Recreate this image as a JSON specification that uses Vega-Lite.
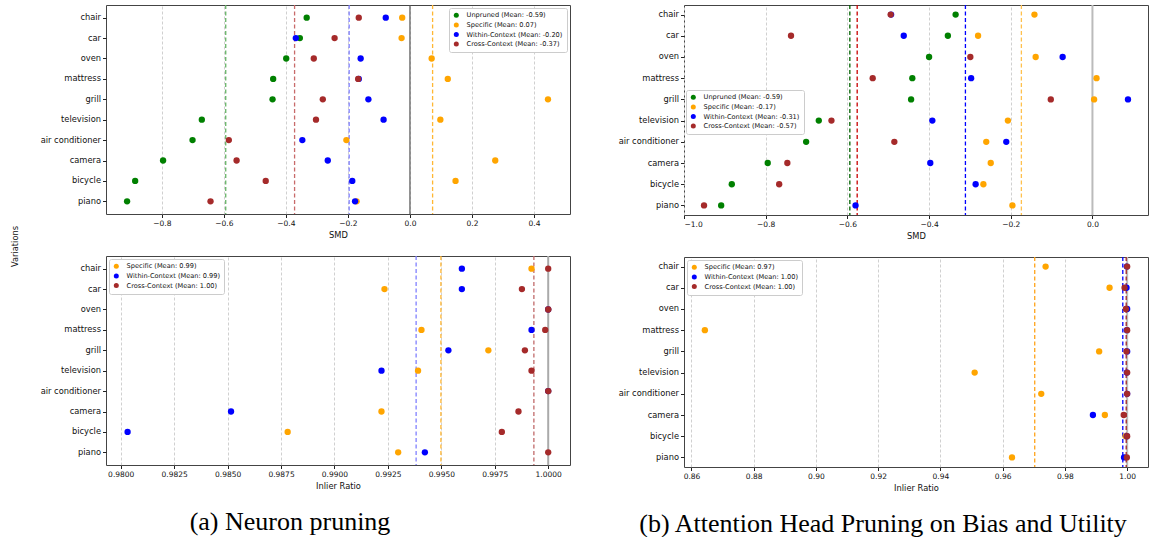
{
  "$schema": "https://vega.github.io/schema/vega-lite/v6.json",
  "background": "white",
  "padding": {"left": 9, "top": 3, "right": 2, "bottom": 0},
  "datasets": {
    "a_top": [
      {"series": "Unpruned (Mean: -0.59)", "variation": "chair", "value": -0.333},
      {"series": "Unpruned (Mean: -0.59)", "variation": "car", "value": -0.355},
      {"series": "Unpruned (Mean: -0.59)", "variation": "oven", "value": -0.399},
      {"series": "Unpruned (Mean: -0.59)", "variation": "mattress", "value": -0.441},
      {"series": "Unpruned (Mean: -0.59)", "variation": "grill", "value": -0.443},
      {"series": "Unpruned (Mean: -0.59)", "variation": "television", "value": -0.671},
      {"series": "Unpruned (Mean: -0.59)", "variation": "air conditioner", "value": -0.701},
      {"series": "Unpruned (Mean: -0.59)", "variation": "camera", "value": -0.796},
      {"series": "Unpruned (Mean: -0.59)", "variation": "bicycle", "value": -0.886},
      {"series": "Unpruned (Mean: -0.59)", "variation": "piano", "value": -0.912},
      {"series": "Specific (Mean: 0.07)", "variation": "chair", "value": -0.025},
      {"series": "Specific (Mean: 0.07)", "variation": "car", "value": -0.027},
      {"series": "Specific (Mean: 0.07)", "variation": "oven", "value": 0.070},
      {"series": "Specific (Mean: 0.07)", "variation": "mattress", "value": 0.122},
      {"series": "Specific (Mean: 0.07)", "variation": "grill", "value": 0.445},
      {"series": "Specific (Mean: 0.07)", "variation": "television", "value": 0.098},
      {"series": "Specific (Mean: 0.07)", "variation": "air conditioner", "value": -0.205},
      {"series": "Specific (Mean: 0.07)", "variation": "camera", "value": 0.275},
      {"series": "Specific (Mean: 0.07)", "variation": "bicycle", "value": 0.147},
      {"series": "Specific (Mean: 0.07)", "variation": "piano", "value": -0.172},
      {"series": "Within-Context (Mean: -0.20)", "variation": "chair", "value": -0.078},
      {"series": "Within-Context (Mean: -0.20)", "variation": "car", "value": -0.368},
      {"series": "Within-Context (Mean: -0.20)", "variation": "oven", "value": -0.159},
      {"series": "Within-Context (Mean: -0.20)", "variation": "mattress", "value": -0.165},
      {"series": "Within-Context (Mean: -0.20)", "variation": "grill", "value": -0.134},
      {"series": "Within-Context (Mean: -0.20)", "variation": "television", "value": -0.085},
      {"series": "Within-Context (Mean: -0.20)", "variation": "air conditioner", "value": -0.347},
      {"series": "Within-Context (Mean: -0.20)", "variation": "camera", "value": -0.265},
      {"series": "Within-Context (Mean: -0.20)", "variation": "bicycle", "value": -0.186},
      {"series": "Within-Context (Mean: -0.20)", "variation": "piano", "value": -0.177},
      {"series": "Cross-Context (Mean: -0.37)", "variation": "chair", "value": -0.165},
      {"series": "Cross-Context (Mean: -0.37)", "variation": "car", "value": -0.243},
      {"series": "Cross-Context (Mean: -0.37)", "variation": "oven", "value": -0.310},
      {"series": "Cross-Context (Mean: -0.37)", "variation": "mattress", "value": -0.167},
      {"series": "Cross-Context (Mean: -0.37)", "variation": "grill", "value": -0.281},
      {"series": "Cross-Context (Mean: -0.37)", "variation": "television", "value": -0.303},
      {"series": "Cross-Context (Mean: -0.37)", "variation": "air conditioner", "value": -0.584},
      {"series": "Cross-Context (Mean: -0.37)", "variation": "camera", "value": -0.559},
      {"series": "Cross-Context (Mean: -0.37)", "variation": "bicycle", "value": -0.465},
      {"series": "Cross-Context (Mean: -0.37)", "variation": "piano", "value": -0.643}
    ],
    "a_top_means": [
      {"series": "Unpruned (Mean: -0.59)", "mean": -0.594},
      {"series": "Specific (Mean: 0.07)", "mean": 0.073},
      {"series": "Within-Context (Mean: -0.20)", "mean": -0.196},
      {"series": "Cross-Context (Mean: -0.37)", "mean": -0.372}
    ],
    "a_bot": [
      {"series": "Specific (Mean: 0.99)", "variation": "chair", "value": 0.99922},
      {"series": "Specific (Mean: 0.99)", "variation": "car", "value": 0.99234},
      {"series": "Specific (Mean: 0.99)", "variation": "oven", "value": 1.0},
      {"series": "Specific (Mean: 0.99)", "variation": "mattress", "value": 0.99407},
      {"series": "Specific (Mean: 0.99)", "variation": "grill", "value": 0.99720},
      {"series": "Specific (Mean: 0.99)", "variation": "television", "value": 0.99391},
      {"series": "Specific (Mean: 0.99)", "variation": "air conditioner", "value": 1.0},
      {"series": "Specific (Mean: 0.99)", "variation": "camera", "value": 0.99220},
      {"series": "Specific (Mean: 0.99)", "variation": "bicycle", "value": 0.98781},
      {"series": "Specific (Mean: 0.99)", "variation": "piano", "value": 0.99298},
      {"series": "Within-Context (Mean: 0.99)", "variation": "chair", "value": 0.99596},
      {"series": "Within-Context (Mean: 0.99)", "variation": "car", "value": 0.99596},
      {"series": "Within-Context (Mean: 0.99)", "variation": "oven", "value": 1.0},
      {"series": "Within-Context (Mean: 0.99)", "variation": "mattress", "value": 0.99922},
      {"series": "Within-Context (Mean: 0.99)", "variation": "grill", "value": 0.99533},
      {"series": "Within-Context (Mean: 0.99)", "variation": "television", "value": 0.99220},
      {"series": "Within-Context (Mean: 0.99)", "variation": "air conditioner", "value": 1.0},
      {"series": "Within-Context (Mean: 0.99)", "variation": "camera", "value": 0.98516},
      {"series": "Within-Context (Mean: 0.99)", "variation": "bicycle", "value": 0.98032},
      {"series": "Within-Context (Mean: 0.99)", "variation": "piano", "value": 0.99423},
      {"series": "Cross-Context (Mean: 1.00)", "variation": "chair", "value": 1.0},
      {"series": "Cross-Context (Mean: 1.00)", "variation": "car", "value": 0.99877},
      {"series": "Cross-Context (Mean: 1.00)", "variation": "oven", "value": 1.0},
      {"series": "Cross-Context (Mean: 1.00)", "variation": "mattress", "value": 0.99986},
      {"series": "Cross-Context (Mean: 1.00)", "variation": "grill", "value": 0.99891},
      {"series": "Cross-Context (Mean: 1.00)", "variation": "television", "value": 0.99922},
      {"series": "Cross-Context (Mean: 1.00)", "variation": "air conditioner", "value": 1.0},
      {"series": "Cross-Context (Mean: 1.00)", "variation": "camera", "value": 0.99861},
      {"series": "Cross-Context (Mean: 1.00)", "variation": "bicycle", "value": 0.99783},
      {"series": "Cross-Context (Mean: 1.00)", "variation": "piano", "value": 1.0}
    ],
    "a_bot_means": [
      {"series": "Specific (Mean: 0.99)", "mean": 0.99498},
      {"series": "Within-Context (Mean: 0.99)", "mean": 0.99382},
      {"series": "Cross-Context (Mean: 1.00)", "mean": 0.99933}
    ],
    "b_top": [
      {"series": "Unpruned (Mean: -0.59)", "variation": "chair", "value": -0.335},
      {"series": "Unpruned (Mean: -0.59)", "variation": "car", "value": -0.354},
      {"series": "Unpruned (Mean: -0.59)", "variation": "oven", "value": -0.400},
      {"series": "Unpruned (Mean: -0.59)", "variation": "mattress", "value": -0.441},
      {"series": "Unpruned (Mean: -0.59)", "variation": "grill", "value": -0.444},
      {"series": "Unpruned (Mean: -0.59)", "variation": "television", "value": -0.670},
      {"series": "Unpruned (Mean: -0.59)", "variation": "air conditioner", "value": -0.701},
      {"series": "Unpruned (Mean: -0.59)", "variation": "camera", "value": -0.795},
      {"series": "Unpruned (Mean: -0.59)", "variation": "bicycle", "value": -0.883},
      {"series": "Unpruned (Mean: -0.59)", "variation": "piano", "value": -0.909},
      {"series": "Specific (Mean: -0.17)", "variation": "chair", "value": -0.142},
      {"series": "Specific (Mean: -0.17)", "variation": "car", "value": -0.280},
      {"series": "Specific (Mean: -0.17)", "variation": "oven", "value": -0.139},
      {"series": "Specific (Mean: -0.17)", "variation": "mattress", "value": 0.010},
      {"series": "Specific (Mean: -0.17)", "variation": "grill", "value": 0.004},
      {"series": "Specific (Mean: -0.17)", "variation": "television", "value": -0.207},
      {"series": "Specific (Mean: -0.17)", "variation": "air conditioner", "value": -0.260},
      {"series": "Specific (Mean: -0.17)", "variation": "camera", "value": -0.249},
      {"series": "Specific (Mean: -0.17)", "variation": "bicycle", "value": -0.267},
      {"series": "Specific (Mean: -0.17)", "variation": "piano", "value": -0.196},
      {"series": "Within-Context (Mean: -0.31)", "variation": "chair", "value": -0.493},
      {"series": "Within-Context (Mean: -0.31)", "variation": "car", "value": -0.462},
      {"series": "Within-Context (Mean: -0.31)", "variation": "oven", "value": -0.073},
      {"series": "Within-Context (Mean: -0.31)", "variation": "mattress", "value": -0.297},
      {"series": "Within-Context (Mean: -0.31)", "variation": "grill", "value": 0.087},
      {"series": "Within-Context (Mean: -0.31)", "variation": "television", "value": -0.392},
      {"series": "Within-Context (Mean: -0.31)", "variation": "air conditioner", "value": -0.211},
      {"series": "Within-Context (Mean: -0.31)", "variation": "camera", "value": -0.397},
      {"series": "Within-Context (Mean: -0.31)", "variation": "bicycle", "value": -0.286},
      {"series": "Within-Context (Mean: -0.31)", "variation": "piano", "value": -0.580},
      {"series": "Cross-Context (Mean: -0.57)", "variation": "chair", "value": -0.494},
      {"series": "Cross-Context (Mean: -0.57)", "variation": "car", "value": -0.738},
      {"series": "Cross-Context (Mean: -0.57)", "variation": "oven", "value": -0.299},
      {"series": "Cross-Context (Mean: -0.57)", "variation": "mattress", "value": -0.538},
      {"series": "Cross-Context (Mean: -0.57)", "variation": "grill", "value": -0.102},
      {"series": "Cross-Context (Mean: -0.57)", "variation": "television", "value": -0.639},
      {"series": "Cross-Context (Mean: -0.57)", "variation": "air conditioner", "value": -0.485},
      {"series": "Cross-Context (Mean: -0.57)", "variation": "camera", "value": -0.747},
      {"series": "Cross-Context (Mean: -0.57)", "variation": "bicycle", "value": -0.767},
      {"series": "Cross-Context (Mean: -0.57)", "variation": "piano", "value": -0.951}
    ],
    "b_top_means": [
      {"series": "Unpruned (Mean: -0.59)", "mean": -0.594},
      {"series": "Specific (Mean: -0.17)", "mean": -0.174},
      {"series": "Within-Context (Mean: -0.31)", "mean": -0.311},
      {"series": "Cross-Context (Mean: -0.57)", "mean": -0.576}
    ],
    "b_bot": [
      {"series": "Specific (Mean: 0.97)", "variation": "chair", "value": 0.9738},
      {"series": "Specific (Mean: 0.97)", "variation": "car", "value": 0.99435},
      {"series": "Specific (Mean: 0.97)", "variation": "oven", "value": 0.9999},
      {"series": "Specific (Mean: 0.97)", "variation": "mattress", "value": 0.8643},
      {"series": "Specific (Mean: 0.97)", "variation": "grill", "value": 0.9910},
      {"series": "Specific (Mean: 0.97)", "variation": "television", "value": 0.9510},
      {"series": "Specific (Mean: 0.97)", "variation": "air conditioner", "value": 0.9724},
      {"series": "Specific (Mean: 0.97)", "variation": "camera", "value": 0.99284},
      {"series": "Specific (Mean: 0.97)", "variation": "bicycle", "value": 0.9995},
      {"series": "Specific (Mean: 0.97)", "variation": "piano", "value": 0.9630},
      {"series": "Within-Context (Mean: 1.00)", "variation": "chair", "value": 0.9999},
      {"series": "Within-Context (Mean: 1.00)", "variation": "car", "value": 0.9998},
      {"series": "Within-Context (Mean: 1.00)", "variation": "oven", "value": 1.0},
      {"series": "Within-Context (Mean: 1.00)", "variation": "mattress", "value": 0.9999},
      {"series": "Within-Context (Mean: 1.00)", "variation": "grill", "value": 1.0},
      {"series": "Within-Context (Mean: 1.00)", "variation": "television", "value": 0.9999},
      {"series": "Within-Context (Mean: 1.00)", "variation": "air conditioner", "value": 1.0},
      {"series": "Within-Context (Mean: 1.00)", "variation": "camera", "value": 0.9890},
      {"series": "Within-Context (Mean: 1.00)", "variation": "bicycle", "value": 0.9999},
      {"series": "Within-Context (Mean: 1.00)", "variation": "piano", "value": 0.9990},
      {"series": "Cross-Context (Mean: 1.00)", "variation": "chair", "value": 1.0},
      {"series": "Cross-Context (Mean: 1.00)", "variation": "car", "value": 0.99917},
      {"series": "Cross-Context (Mean: 1.00)", "variation": "oven", "value": 0.9996},
      {"series": "Cross-Context (Mean: 1.00)", "variation": "mattress", "value": 1.0},
      {"series": "Cross-Context (Mean: 1.00)", "variation": "grill", "value": 0.9998},
      {"series": "Cross-Context (Mean: 1.00)", "variation": "television", "value": 1.0},
      {"series": "Cross-Context (Mean: 1.00)", "variation": "air conditioner", "value": 1.0},
      {"series": "Cross-Context (Mean: 1.00)", "variation": "camera", "value": 0.9989},
      {"series": "Cross-Context (Mean: 1.00)", "variation": "bicycle", "value": 1.0},
      {"series": "Cross-Context (Mean: 1.00)", "variation": "piano", "value": 0.9999}
    ],
    "b_bot_means": [
      {"series": "Specific (Mean: 0.97)", "mean": 0.9703},
      {"series": "Within-Context (Mean: 1.00)", "mean": 0.9986},
      {"series": "Cross-Context (Mean: 1.00)", "mean": 0.9997}
    ]
  },
  "hconcat": [
    {
      "vconcat": [
        {
          "width": 464, "height": 209,
          "layer": [
            {"data": {"values": [{"ref": 0}]}, "mark": {"type": "rule", "color": "#555", "strokeWidth": 1.2},
             "encoding": {"x": {"field": "ref", "type": "quantitative", "title": "SMD"}}},
            {"data": {"name": "a_top_means"}, "mark": {"type": "rule", "strokeDash": [4, 2.5], "strokeWidth": 1.3},
             "encoding": {"x": {"field": "mean", "type": "quantitative", "title": "SMD"},
               "stroke": {"field": "series", "type": "nominal", "legend": null,
                 "scale": {"domain": ["Cross-Context (Mean: -0.37)", "Within-Context (Mean: -0.20)", "Specific (Mean: 0.07)", "Unpruned (Mean: -0.59)"],
                           "range": ["#c86a6a", "#8080ff", "#ffb733", "#66b366"]}}}},
            {"data": {"name": "a_top"}, "mark": {"type": "circle", "size": 40, "opacity": 1},
             "encoding": {
               "x": {"field": "value", "type": "quantitative", "title": "SMD",
                 "scale": {"domain": [-0.98, 0.516], "nice": false, "zero": false},
                 "axis": {"values": [-0.8, -0.6, -0.4, -0.2, 0, 0.2, 0.4], "format": ".1f"}},
               "y": {"field": "variation", "type": "nominal",
                 "sort": ["chair", "car", "oven", "mattress", "grill", "television", "air conditioner", "camera", "bicycle", "piano"],
                 "scale": {"type": "point", "padding": 0.62},
                 "axis": {"title": "Variations", "titleX": -87, "titleY": 241}},
               "color": {"field": "series", "type": "nominal",
                 "scale": {"domain": ["Unpruned (Mean: -0.59)", "Specific (Mean: 0.07)", "Within-Context (Mean: -0.20)", "Cross-Context (Mean: -0.37)"],
                           "range": ["green", "orange", "blue", "brown"]},
                 "legend": {"title": null, "orient": "top-right"}}}}
          ]
        },
        {
          "width": 464, "height": 209,
          "layer": [
            {"data": {"values": [{"ref": 1}]}, "mark": {"type": "rule", "color": "#aaa", "strokeWidth": 2},
             "encoding": {"x": {"field": "ref", "type": "quantitative", "title": "Inlier Ratio"}}},
            {"data": {"name": "a_bot_means"}, "mark": {"type": "rule", "strokeDash": [4, 2.5], "strokeWidth": 1.3},
             "encoding": {"x": {"field": "mean", "type": "quantitative", "title": "Inlier Ratio"},
               "stroke": {"field": "series", "type": "nominal", "legend": null,
                 "scale": {"domain": ["Cross-Context (Mean: 1.00)", "Within-Context (Mean: 0.99)", "Specific (Mean: 0.99)"],
                           "range": ["#c06a6a", "#8080ff", "#ffb733"]}}}},
            {"data": {"name": "a_bot"}, "mark": {"type": "circle", "size": 40, "opacity": 1},
             "encoding": {
               "x": {"field": "value", "type": "quantitative", "title": "Inlier Ratio",
                 "scale": {"domain": [0.97931, 1.00102], "nice": false, "zero": false},
                 "axis": {"values": [0.98, 0.9825, 0.985, 0.9875, 0.99, 0.9925, 0.995, 0.9975, 1.0], "format": ".4f"}},
               "y": {"field": "variation", "type": "nominal",
                 "sort": ["chair", "car", "oven", "mattress", "grill", "television", "air conditioner", "camera", "bicycle", "piano"],
                 "scale": {"type": "point", "padding": 0.62},
                 "axis": {"title": null}},
               "color": {"field": "series", "type": "nominal",
                 "scale": {"domain": ["Specific (Mean: 0.99)", "Within-Context (Mean: 0.99)", "Cross-Context (Mean: 1.00)"],
                           "range": ["orange", "blue", "brown"]},
                 "legend": {"title": null, "orient": "top-left"}}}}
          ]
        }
      ],
      "spacing": 42,
      "bounds": "flush",
      "resolve": {"scale": {"color": "independent", "stroke": "independent"}},
      "title": {"text": "(a) Neuron pruning", "orient": "bottom", "anchor": "middle", "font": "Liberation Serif", "fontSize": 26, "fontWeight": "normal", "color": "#000", "offset": 19}
    },
    {
      "vconcat": [
        {
          "width": 464, "height": 210,
          "layer": [
            {"data": {"values": [{"ref": 0}]}, "mark": {"type": "rule", "color": "#bbb", "strokeWidth": 2},
             "encoding": {"x": {"field": "ref", "type": "quantitative", "title": "SMD"}}},
            {"data": {"name": "b_top_means"}, "mark": {"type": "rule", "strokeDash": [4, 2.5], "strokeWidth": 1.3},
             "encoding": {"x": {"field": "mean", "type": "quantitative", "title": "SMD"},
               "stroke": {"field": "series", "type": "nominal", "legend": null,
                 "scale": {"domain": ["Cross-Context (Mean: -0.57)", "Within-Context (Mean: -0.31)", "Specific (Mean: -0.17)", "Unpruned (Mean: -0.59)"],
                           "range": ["#c80000", "#0000ff", "#ffc04d", "#006400"]}}}},
            {"data": {"name": "b_top"}, "mark": {"type": "circle", "size": 40, "opacity": 1},
             "encoding": {
               "x": {"field": "value", "type": "quantitative", "title": "SMD",
                 "scale": {"domain": [-1.0, 0.136], "nice": false, "zero": false},
                 "axis": {"values": [-1.0, -0.8, -0.6, -0.4, -0.2, 0], "format": ".1f"}},
               "y": {"field": "variation", "type": "nominal",
                 "sort": ["chair", "car", "oven", "mattress", "grill", "television", "air conditioner", "camera", "bicycle", "piano"],
                 "scale": {"type": "point", "padding": 0.45},
                 "axis": {"title": null}},
               "color": {"field": "series", "type": "nominal",
                 "scale": {"domain": ["Unpruned (Mean: -0.59)", "Specific (Mean: -0.17)", "Within-Context (Mean: -0.31)", "Cross-Context (Mean: -0.57)"],
                           "range": ["green", "orange", "blue", "brown"]},
                 "legend": {"title": null, "orient": "none", "legendX": 2, "legendY": 85}}}}
          ]
        },
        {
          "width": 464, "height": 210,
          "layer": [
            {"data": {"values": [{"ref": 1}]}, "mark": {"type": "rule", "color": "#bbb", "strokeWidth": 2},
             "encoding": {"x": {"field": "ref", "type": "quantitative", "title": "Inlier Ratio"}}},
            {"data": {"name": "b_bot_means"}, "mark": {"type": "rule", "strokeDash": [4, 2.5], "strokeWidth": 1.3},
             "encoding": {"x": {"field": "mean", "type": "quantitative", "title": "Inlier Ratio"},
               "stroke": {"field": "series", "type": "nominal", "legend": null,
                 "scale": {"domain": ["Cross-Context (Mean: 1.00)", "Within-Context (Mean: 1.00)", "Specific (Mean: 0.97)"],
                           "range": ["#a52a2a", "#0000ff", "#ffa31a"]}}}},
            {"data": {"name": "b_bot"}, "mark": {"type": "circle", "size": 40, "opacity": 1},
             "encoding": {
               "x": {"field": "value", "type": "quantitative", "title": "Inlier Ratio",
                 "scale": {"domain": [0.8576, 1.0067], "nice": false, "zero": false},
                 "axis": {"values": [0.86, 0.88, 0.9, 0.92, 0.94, 0.96, 0.98, 1.0], "format": ".2f"}},
               "y": {"field": "variation", "type": "nominal",
                 "sort": ["chair", "car", "oven", "mattress", "grill", "television", "air conditioner", "camera", "bicycle", "piano"],
                 "scale": {"type": "point", "padding": 0.45},
                 "axis": {"title": null}},
               "color": {"field": "series", "type": "nominal",
                 "scale": {"domain": ["Specific (Mean: 0.97)", "Within-Context (Mean: 1.00)", "Cross-Context (Mean: 1.00)"],
                           "range": ["orange", "blue", "brown"]},
                 "legend": {"title": null, "orient": "top-left"}}}}
          ]
        }
      ],
      "spacing": 42,
      "bounds": "flush",
      "resolve": {"scale": {"color": "independent", "stroke": "independent"}},
      "title": {"text": "(b) Attention Head Pruning on Bias and Utility", "orient": "bottom", "anchor": "middle", "font": "Liberation Serif", "fontSize": 26, "fontWeight": "normal", "color": "#000", "offset": 19}
    }
  ],
  "spacing": 46,
  "resolve": {"scale": {"color": "independent", "stroke": "independent"}},
  "config": {
    "font": "DejaVu Sans",
    "view": {"stroke": "#444", "strokeWidth": 1},
    "axis": {"labelFont": "DejaVu Sans", "titleFont": "DejaVu Sans", "labelColor": "#111", "titleColor": "#111",
             "tickColor": "#222", "tickSize": 3.5, "domain": false, "titleFontWeight": "normal", "titleFontSize": 8.3, "labelFontSize": 8.3},
    "axisX": {"grid": true, "gridDash": [3, 2], "gridColor": "#d0d0d0", "labelFontSize": 7.5, "titlePadding": 3, "labelPadding": 2},
    "axisY": {"grid": false, "labelPadding": 2},
    "legend": {"labelFont": "DejaVu Sans", "labelFontSize": 6.6, "labelColor": "#111", "symbolSize": 25, "symbolType": "circle",
               "strokeColor": "#ccc", "fillColor": "#fff", "padding": 4, "cornerRadius": 2, "rowPadding": 2.6, "labelOffset": 7,
               "symbolStrokeWidth": 0, "offset": 3}
  }
}
